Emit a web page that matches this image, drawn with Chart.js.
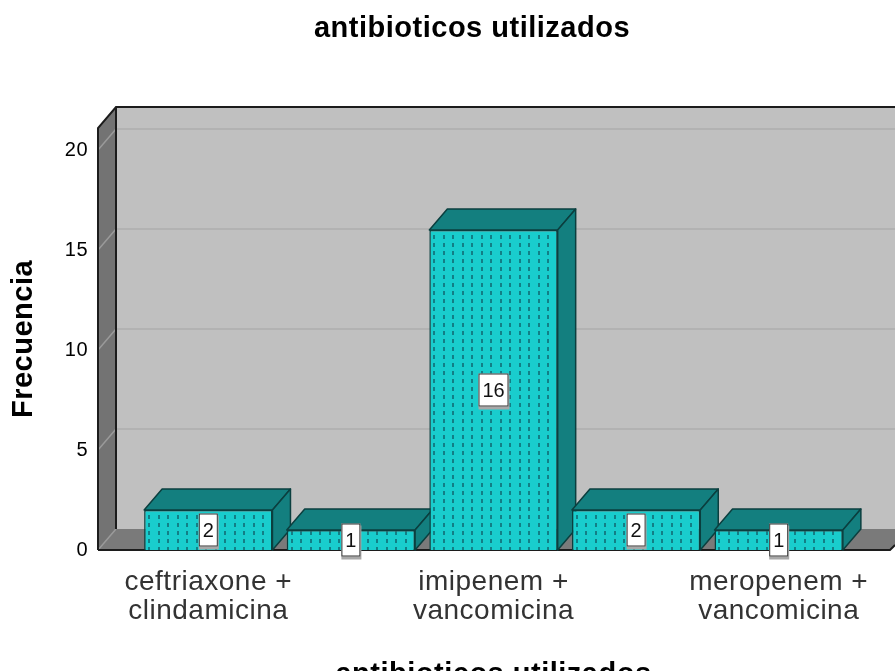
<!DOCTYPE html>
<html>
<head>
<meta charset="utf-8">
<style>html,body{margin:0;padding:0;background:#fff;overflow:hidden}canvas{display:block}</style>
<script src="https://cdn.jsdelivr.net/npm/chart.js@4"></script>
</head>
<body>
<canvas id="c" width="895" height="671"></canvas>
<script>
const categories = [['ceftriaxone +','clindamicina'], '', ['imipenem +','vancomicina'], '', ['meropenem +','vancomicina']];
const frecuencias = [2, 1, 16, 2, 1];
const gridValues = [5, 10, 15, 20];
const chartTitle = 'antibioticos utilizados';
const yTitle = 'Frecuencia';
const FONT = '"Liberation Sans", Arial, sans-serif';
const DX = 18, DY = -21;
const TEAL = '#19CDCD', TEAL_DARK = '#137F7F', EDGE = '#0B3F3F', LINE = '#1c1c1c';

function dotPattern() {
  const p = document.createElement('canvas');
  p.width = 19; p.height = 8;
  const g = p.getContext('2d');
  g.fillStyle = TEAL; g.fillRect(0, 0, 19, 8);
  g.fillStyle = '#127F86';
  g.fillRect(6, 3, 2, 4);
  g.fillRect(15, 3, 2, 4);
  return document.createElement('canvas').getContext('2d').createPattern(p, 'repeat');
}

function poly(ctx, pts, fill, stroke, w) {
  ctx.beginPath();
  pts.forEach((p, i) => i ? ctx.lineTo(p[0], p[1]) : ctx.moveTo(p[0], p[1]));
  ctx.closePath();
  if (fill) { ctx.fillStyle = fill; ctx.fill(); }
  if (stroke) { ctx.strokeStyle = stroke; ctx.lineWidth = w || 1; ctx.lineJoin = 'round'; ctx.stroke(); }
}

const scene3d = {
  id: 'scene3d',
  afterLayout(chart) {
    chart.titleBlock.left = 49;
    chart.titleBlock.right = 895;
  },
  beforeDraw(chart) {
    chart.ctx.letterSpacing = '0.5px';
  },
  beforeDatasetsDraw(chart) {
    const ctx = chart.ctx, y = chart.scales.y;
    const y0 = y.getPixelForValue(0), yT = chart.chartArea.top;
    const xL = 98, xR = 895, xF = 890;
    ctx.save();
    // back wall, side wall, floor
    poly(ctx, [[xL+DX,yT+DY],[xR,yT+DY],[xR,y0+DY],[xL+DX,y0+DY]], '#C0C0C0');
    poly(ctx, [[xL,yT],[xL+DX,yT+DY],[xL+DX,y0+DY],[xL,y0]], '#737373');
    poly(ctx, [[xL,y0],[xL+DX,y0+DY],[xF+DX,y0+DY],[xF,y0]], '#7A7A7A');
    // gridlines
    gridValues.forEach(v => {
      const p = y.getPixelForValue(v);
      ctx.strokeStyle = '#B2B2B2'; ctx.lineWidth = 2;
      ctx.beginPath(); ctx.moveTo(xL+DX, p+DY); ctx.lineTo(xR, p+DY); ctx.stroke();
      ctx.strokeStyle = '#9A9A9A'; ctx.lineWidth = 1.5;
      ctx.beginPath(); ctx.moveTo(xL, p); ctx.lineTo(xL+DX, p+DY); ctx.stroke();
    });
    // floor seam on the side wall
    ctx.strokeStyle = '#9A9A9A'; ctx.lineWidth = 1.5;
    ctx.beginPath(); ctx.moveTo(xL, y0); ctx.lineTo(xL+DX, y0+DY); ctx.stroke();
    // frame
    ctx.strokeStyle = LINE; ctx.lineWidth = 2;
    ctx.beginPath();
    ctx.moveTo(xL, y0); ctx.lineTo(xL, yT); ctx.lineTo(xL+DX, yT+DY); ctx.lineTo(xR, yT+DY);
    ctx.moveTo(xL+DX, yT+DY); ctx.lineTo(xL+DX, y0+DY);
    ctx.moveTo(xL, y0); ctx.lineTo(xF, y0); ctx.lineTo(xR, y0-5);
    ctx.stroke();
    // bar top and side faces
    chart.getDatasetMeta(0).data.forEach(b => {
      const l = b.x - b.width/2, r = b.x + b.width/2, t = b.y, f = b.base;
      poly(ctx, [[l,t],[l+DX,t+DY],[r+DX,t+DY],[r,t]], TEAL_DARK, EDGE, 1.5);
      poly(ctx, [[r,t],[r+DX,t+DY],[r+DX,f+DY],[r,f]], TEAL_DARK, EDGE, 1.5);
    });
    ctx.restore();
  },
  afterDatasetsDraw(chart) {
    const ctx = chart.ctx;
    ctx.save();
    ctx.font = '20px ' + FONT;
    ctx.letterSpacing = '0px';
    ctx.textAlign = 'center'; ctx.textBaseline = 'middle';
    chart.getDatasetMeta(0).data.forEach((b, i) => {
      const s = String(frecuencias[i]);
      const w = s.length > 1 ? 30 : 19, h = 33;
      const cy = (b.y + b.base) / 2;
      ctx.fillStyle = '#A8A8A8'; ctx.fillRect(b.x - w/2, cy - h/2 + 2, w + 1, h + 1);
      ctx.fillStyle = '#FFFFFF'; ctx.fillRect(b.x - w/2, cy - h/2, w, h);
      ctx.strokeStyle = '#303030'; ctx.lineWidth = 1;
      ctx.strokeRect(b.x - w/2 + .5, cy - h/2 + .5, w - 1, h - 1);
      ctx.fillStyle = '#111'; ctx.fillText(s, b.x, cy + 1);
    });
    ctx.restore();
  }
};

new Chart(document.getElementById('c'), {
  type: 'bar',
  data: {
    labels: categories,
    datasets: [{
      data: frecuencias,
      backgroundColor: dotPattern(),
      borderColor: EDGE,
      borderWidth: 1.5,
      barPercentage: 0.9,
      categoryPercentage: 1
    }]
  },
  options: {
    responsive: false,
    animation: false,
    layout: { padding: { left: 0, right: 45, top: 0, bottom: 0 } },
    plugins: {
      legend: { display: false },
      tooltip: { enabled: false },
      title: {
        display: true,
        text: chartTitle,
        color: '#000',
        font: { family: FONT, size: 29, weight: 'bold', lineHeight: 1.2 },
        padding: { top: 12, bottom: 81.2 }
      }
    },
    scales: {
      x: {
        grid: { display: false },
        border: { display: false },
        afterFit(s) { s.height = 121; },
        ticks: {
          autoSkip: false, maxRotation: 0, minRotation: 0,
          color: '#333',
          padding: 10,
          font: { family: FONT, size: 28, lineHeight: 1.036 }
        },
        title: {
          display: true,
          text: chartTitle,
          color: '#000',
          font: { family: FONT, size: 29, weight: 'bold', lineHeight: 1.2 },
          padding: { top: 0, bottom: -21 }
        }
      },
      y: {
        min: 0,
        max: 21.1,
        afterFit(s) { s.width = 137; },
        grid: { display: false },
        border: { display: false },
        ticks: {
          stepSize: 5,
          includeBounds: false,
          color: '#000',
          padding: 41,
          font: { family: FONT, size: 20 }
        },
        title: {
          display: true,
          text: yTitle,
          color: '#000',
          font: { family: FONT, size: 29, weight: 'bold', lineHeight: 1.2 },
          padding: { top: 7, bottom: 0 }
        }
      }
    }
  },
  plugins: [scene3d]
});
</script>
</body>
</html>
